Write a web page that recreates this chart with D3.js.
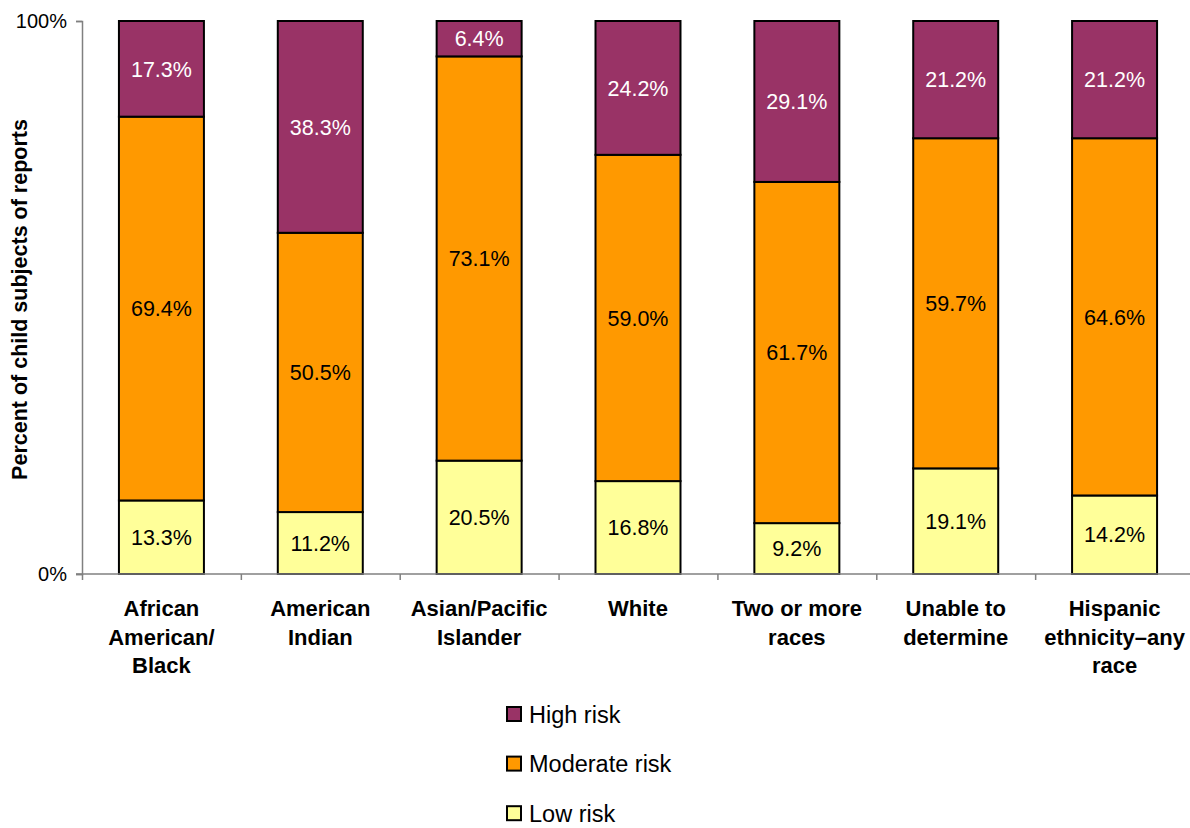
<!DOCTYPE html>
<html>
<head>
<meta charset="utf-8">
<script src="https://cdn.jsdelivr.net/npm/d3@7"></script>
<style>
  html, body { margin: 0; padding: 0; background: #fff; }
  svg { display: block; font-family: "Liberation Sans", Arial, sans-serif; }
</style>
</head>
<body>
<svg id="chart" width="1190" height="828"></svg>
<script>
// ---- data ----
const categories = [
  "African American/Black", "American Indian", "Asian/Pacific Islander", "White",
  "Two or more races", "Unable to determine", "Hispanic ethnicity–any race"
];
const categoryLines = [
  ["African", "American/", "Black"],
  ["American", "Indian"],
  ["Asian/Pacific", "Islander"],
  ["White"],
  ["Two or more", "races"],
  ["Unable to", "determine"],
  ["Hispanic", "ethnicity–any", "race"]
];
const lowRisk      = [13.3, 11.2, 20.5, 16.8,  9.2, 19.1, 14.2];
const moderateRisk = [69.4, 50.5, 73.1, 59.0, 61.7, 59.7, 64.6];
const highRisk     = [17.3, 38.3,  6.4, 24.2, 29.1, 21.2, 21.2];
const seriesNames  = ["Low risk", "Moderate risk", "High risk"];
const yTickValues  = [0, 100];
const yTitle = "Percent of child subjects of reports";

// ---- layout ----
const plotLeft = 82, plotRight = 1194, plotTop = 21, plotBottom = 574;
const colors = { "Low risk": "#FFFF99", "Moderate risk": "#FF9900", "High risk": "#993366" };
const labelColors = { "Low risk": "#000", "Moderate risk": "#000", "High risk": "#fff" };

const rows = categories.map((c, i) => ({
  cat: c, "Low risk": lowRisk[i], "Moderate risk": moderateRisk[i], "High risk": highRisk[i]
}));

const svg = d3.select("#chart");

const x = d3.scaleBand().domain(categories).range([plotLeft, plotRight])
  .paddingInner(0.465).paddingOuter(0.2325);
const y = d3.scaleLinear().domain([0, 100]).range([plotBottom, plotTop]);
const xEdges = d3.scaleLinear().domain([0, categories.length]).range([plotLeft, plotRight]);

const stacked = d3.stack().keys(seriesNames)(rows);

// bars
const layers = svg.append("g").selectAll("g").data(stacked).join("g")
  .attr("fill", d => colors[d.key]);
layers.selectAll("rect").data(d => d).join("rect")
  .attr("x", d => x(d.data.cat))
  .attr("width", x.bandwidth())
  .attr("y", d => y(d[1]))
  .attr("height", d => y(d[0]) - y(d[1]))
  .attr("stroke", "#000")
  .attr("stroke-width", 2);

// bar labels
stacked.forEach(layer => {
  svg.append("g").selectAll("text").data(layer).join("text")
    .attr("x", d => x(d.data.cat) + x.bandwidth() / 2)
    .attr("y", d => (y(d[0]) + y(d[1])) / 2)
    .attr("dy", "0.36em")
    .attr("text-anchor", "middle")
    .attr("font-size", "21.5px")
    .attr("fill", labelColors[layer.key])
    .text(d => (d[1] - d[0]).toFixed(1) + "%");
});

// y axis
const yAxis = svg.append("g").attr("transform", `translate(${plotLeft},0)`)
  .call(d3.axisLeft(y).tickValues(yTickValues).tickSize(6).tickPadding(9)
    .tickFormat(d => d + "%"));
yAxis.select(".domain").attr("stroke", "#808080").attr("stroke-width", 1.5);
yAxis.selectAll(".tick line").attr("stroke", "#808080").attr("stroke-width", 1.5);
yAxis.selectAll(".tick text").attr("font-size", "20px").attr("fill", "#000")
  .attr("font-family", "'Liberation Sans', Arial, sans-serif");

// x axis with ticks at category edges
const xAxis = svg.append("g").attr("transform", `translate(0,${plotBottom})`)
  .call(d3.axisBottom(xEdges).tickValues(d3.range(categories.length + 1))
    .tickSize(6).tickFormat(""));
xAxis.select(".domain").attr("stroke", "#808080").attr("stroke-width", 1.5)
  .attr("d", `M${plotLeft - 6},0H${plotRight}`);
xAxis.selectAll(".tick line").attr("stroke", "#808080").attr("stroke-width", 1.5);

// category labels
const catG = svg.append("g");
categories.forEach((c, i) => {
  const t = catG.append("text")
    .attr("text-anchor", "middle")
    .attr("font-size", "22px")
    .attr("font-weight", "bold")
    .attr("fill", "#000");
  categoryLines[i].forEach((line, j) => {
    t.append("tspan")
      .attr("x", x(c) + x.bandwidth() / 2)
      .attr("y", 616 + j * 28.5)
      .text(line);
  });
});

// y title
svg.append("text")
  .attr("transform", `translate(27,${(plotTop + plotBottom) / 2 + 2}) rotate(-90)`)
  .attr("text-anchor", "middle")
  .attr("font-size", "21.5px")
  .attr("font-weight", "bold")
  .attr("fill", "#000")
  .text(yTitle);

// legend
const legendOrder = ["High risk", "Moderate risk", "Low risk"];
const leg = svg.append("g").selectAll("g").data(legendOrder).join("g")
  .attr("transform", (d, i) => `translate(507,${707 + i * 49.6})`);
leg.append("rect")
  .attr("width", 14).attr("height", 14)
  .attr("fill", d => colors[d])
  .attr("stroke", "#000").attr("stroke-width", 2);
leg.append("text")
  .attr("x", 22).attr("y", 15.5)
  .attr("font-size", "23.5px")
  .attr("fill", "#000")
  .text(d => d);
</script>
</body>
</html>
